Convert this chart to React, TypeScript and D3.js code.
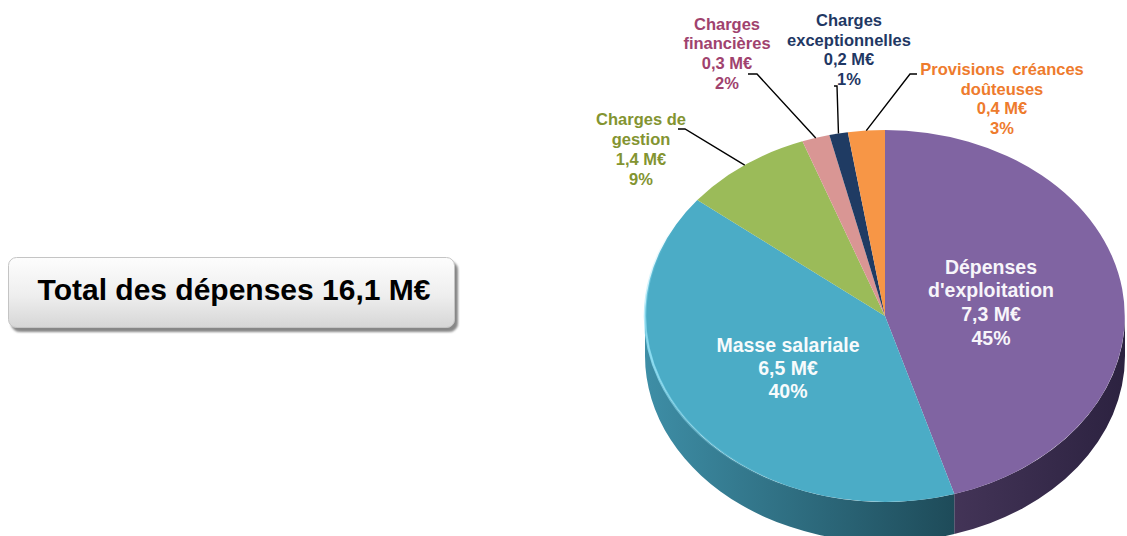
import * as React from "react";
import * as d3 from "d3";

const CATEGORIES = [
  "Dépenses d'exploitation",
  "Masse salariale",
  "Charges de gestion",
  "Charges financières",
  "Charges exceptionnelles",
  "Provisions créances doûteuses",
];
const VALUES = [7.3, 6.5, 1.4, 0.3, 0.2, 0.4];
const PERCENT_LABELS = ["45%", "40%", "9%", "2%", "1%", "3%"];
const NAME_LINES = [
  ["Dépenses", "d'exploitation"],
  ["Masse salariale"],
  ["Charges de", "gestion"],
  ["Charges", "financières"],
  ["Charges", "exceptionnelles"],
  ["Provisions créances", "doûteuses"],
];
const TOTAL_LABEL = "Total des dépenses 16,1 M€";

const TOP_COLORS = ["#8064a2", "#4bacc6", "#9bbb59", "#d99694", "#1f3b63", "#f79646"];
const SIDE_COLORS: [string, string][] = [
  ["#433457", "#2c2240"],
  ["#3e8ea6", "#1e4b59"],
  ["#5f7a30", "#4a5f25"],
  ["#8a5a58", "#6e4645"],
  ["#13243d", "#0e1a2d"],
  ["#b0622a", "#8e4f22"],
];
const LABEL_COLORS = ["#f7f5fa", "#f7fbfc", "#839431", "#a0426e", "#1f3864", "#ee7b2d"];

// label placement (layout only)
const LABEL_LAYOUT = [
  { x: 991, y: 273.5, lh: 23.8, size: 19.5, hook: null },
  { x: 788, y: 351.5, lh: 23, size: 19.5, hook: null },
  { x: 641, y: 125, lh: 20, size: 16.5, hook: [678, 129, 685, 129] },
  { x: 727, y: 29.5, lh: 19.7, size: 16.5, hook: [748, 74, 757, 74] },
  { x: 849, y: 26, lh: 19.5, size: 16.5, hook: [834, 86, 837, 86] },
  { x: 1002, y: 75, lh: 19.5, size: 16.5, hook: [917, 74, 910, 74] },
];

const W = 1127;
const H = 536;
const CX = 885;
const CY = 316;
const RX = 240;
const RY = 186;
const DEPTH = 40;

const fmtAmount = (v: number) => `${v.toFixed(1).replace(".", ",")} M€`;

export default function App() {
  const data = CATEGORIES.map((name, i) => ({ name, value: VALUES[i], i }));
  const pie = d3
    .pie<{ name: string; value: number; i: number }>()
    .sort(null)
    .value((d) => d.value)
    .startAngle(0)
    .endAngle(2 * Math.PI);
  const arcs = pie(data);

  const arc = d3
    .arc<d3.PieArcDatum<{ name: string; value: number; i: number }>>()
    .innerRadius(0)
    .outerRadius(1);

  const d = DEPTH / RY;
  const sidePath = (a0: number, a1: number) => {
    const s = Math.max(a0, Math.PI / 2);
    const e = Math.min(a1, (3 * Math.PI) / 2);
    if (e <= s) return null;
    const p = d3.path();
    p.moveTo(Math.sin(s), -Math.cos(s));
    p.arc(0, 0, 1, s - Math.PI / 2, e - Math.PI / 2, false);
    p.lineTo(Math.sin(e), -Math.cos(e) + d);
    p.arc(0, d, 1, e - Math.PI / 2, s - Math.PI / 2, true);
    p.closePath();
    return p.toString();
  };

  const rim = d3.path();
  const r0 = (200 * Math.PI) / 180;
  const r1 = (300 * Math.PI) / 180;
  rim.moveTo(Math.sin(r0), -Math.cos(r0));
  rim.arc(0, 0, 1, r0 - Math.PI / 2, r1 - Math.PI / 2, false);

  const edgePoint = (a: number) => [CX + RX * Math.sin(a), CY - RY * Math.cos(a)];

  return (
    <div style={{ position: "absolute", left: 0, top: 0 }}>
      <svg width={W} height={H} style={{ display: "block", background: "#ffffff" }}>
        <defs>
          {SIDE_COLORS.map((c, i) => (
            <linearGradient key={i} id={`side-${i}`} x1="0" y1="0" x2="1" y2="0">
              <stop offset="0%" stopColor={c[0]} />
              <stop offset="100%" stopColor={c[1]} />
            </linearGradient>
          ))}
          <linearGradient id="boxFill" x1="0" y1="0" x2="0" y2="1">
            <stop offset="0%" stopColor="#fdfdfd" />
            <stop offset="55%" stopColor="#eeeeee" />
            <stop offset="100%" stopColor="#d6d6d6" />
          </linearGradient>
          <linearGradient id="rimGrad" x1="0" y1="0" x2="0" y2="1">
            <stop offset="0%" stopColor="#8fe0f5" stopOpacity={0} />
            <stop offset="50%" stopColor="#8fe0f5" stopOpacity={0.9} />
            <stop offset="100%" stopColor="#8fe0f5" stopOpacity={0} />
          </linearGradient>
          <filter id="boxShadow" x="-5%" y="-20%" width="115%" height="150%">
            <feDropShadow dx={3} dy={4} stdDeviation={1.2} floodColor="#7a7a7a" floodOpacity={0.9} />
          </filter>
        </defs>

        {/* total box */}
        <rect
          x={8.5}
          y={257.5}
          width={446}
          height={70}
          rx={8}
          fill="url(#boxFill)"
          stroke="#c4c4c4"
          filter="url(#boxShadow)"
        />
        <text
          x={234}
          y={299.5}
          textAnchor="middle"
          fontFamily="'Liberation Sans', Arial, sans-serif"
          fontWeight="bold"
          fontSize={30}
          fill="#000000"
        >
          {TOTAL_LABEL}
        </text>

        {/* pie */}
        <g transform={`translate(${CX},${CY}) scale(${RX},${RY})`}>
          {arcs.map((a) => {
            const sp = sidePath(a.startAngle, a.endAngle);
            return sp ? <path key={`s${a.index}`} d={sp} fill={`url(#side-${a.data.i})`} /> : null;
          })}
          {arcs.map((a) => (
            <path key={`t${a.index}`} d={arc(a) ?? undefined} fill={TOP_COLORS[a.data.i]} />
          ))}
          <path
            d={rim.toString()}
            fill="none"
            stroke="url(#rimGrad)"
            strokeWidth={2.5}
            vectorEffect="non-scaling-stroke"
          />
        </g>

        {/* leader lines */}
        {arcs.map((a) => {
          const lay = LABEL_LAYOUT[a.data.i];
          if (!lay.hook) return null;
          const mid = (a.startAngle + a.endAngle) / 2;
          const [ex, ey] = edgePoint(mid);
          const [x0, y0, x1, y1] = lay.hook;
          return (
            <polyline
              key={`l${a.index}`}
              points={`${x0},${y0} ${x1},${y1} ${ex},${ey}`}
              fill="none"
              stroke="#000000"
              strokeWidth={1.4}
            />
          );
        })}

        {/* labels */}
        {arcs.map((a) => {
          const i = a.data.i;
          const lay = LABEL_LAYOUT[i];
          const lines = [...NAME_LINES[i], fmtAmount(VALUES[i]), PERCENT_LABELS[i]];
          return (
            <text
              key={`x${i}`}
              textAnchor="middle"
              fontFamily="'Liberation Sans', Arial, sans-serif"
              fontWeight="bold"
              fontSize={lay.size}
              fill={LABEL_COLORS[i]}
            >
              {lines.map((ln, k) => (
                <tspan
                  key={k}
                  x={lay.x}
                  y={lay.y + k * lay.lh}
                  wordSpacing={i === 5 && k === 0 ? 3 : 0}
                >
                  {ln}
                </tspan>
              ))}
            </text>
          );
        })}
      </svg>
    </div>
  );
}
